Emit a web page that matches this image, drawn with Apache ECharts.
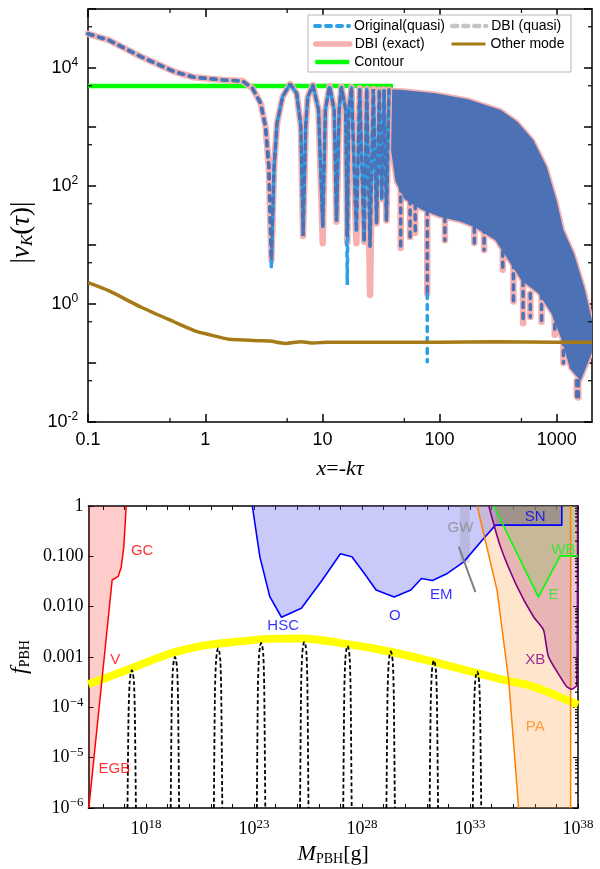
<!DOCTYPE html>
<html><head><meta charset="utf-8">
<script src="https://cdn.jsdelivr.net/npm/echarts@6/dist/echarts.min.js"></script>
<style>html,body{margin:0;padding:0;background:#fff}#c{width:600px;height:869px}</style>
</head><body><div id="c"></div>
<script>
// ================= TOP PANEL DATA (x = -k tau, |v_k|) =================
const curveX = [0.1,0.15,0.284,0.54,0.8,1.42,2.09,2.53,2.97,3.27,3.49,3.67,3.87,4.1,4.57,5.3,6.03,6.55,6.84,7.2,7.5,8.3,9.26,10.07,10.6,11.5,12.6,13.2,13.9,14.5,15.8,16.3,16.8,17.7,19.5,20.8,22.7,23.9,25.5,27.2,29,30.6,32.1,33.6,35.2,37];
const curveY = [38000,29600,15500,8700,6970,6270,6000,4530,2530,1010,213,5.6,213,1150,3250,5370,3710,1010,14.2,1010,3250,5150,1950,20.4,1950,4950,1950,24.8,1950,4800,1950,13.8,1950,4700,16.8,4530,11.4,4400,9.4,4400,23.3,4300,60,4300,26,4300];
const lightDipX = [3.67, 16.3];
const lightDipY = [4.0, 2.1];
const pinkDipX = [10.07, 16.3, 19.5, 25.5];
const pinkDipY = [10.7, 11, 10.7, 1.42];
// dense oscillation band
const bandTopX = [36, 48.5, 92, 175, 333, 460, 630, 820, 994, 1140, 1400, 1710, 2000];
const bandTopY = [4350, 4240, 3730, 2950, 1950, 1230, 600, 212, 58, 18, 7.2, 1.96, 0.54];
const bandBotX = [36, 38, 42, 50, 70, 100, 150, 200, 300, 400, 500, 700, 900, 1100, 1300, 1600, 2000];
const bandBotY = [3000, 500, 120, 60, 40, 30, 25, 20, 12, 5, 2.5, 1.5, 0.7, 0.25, 0.08, 0.05, 0.15];
const spikeX   = [46.6, 56, 62, 78.5, 111, 198, 240, 346, 427, 516, 595, 742, 962, 1140, 1480, 1530];
const spikeTop = [100, 60, 50, 40, 30, 20, 20, 12, 5, 2.5, 1.5, 1.5, 0.7, 0.25, 0.05, 0.05];
const spikeBot = [8.9, 13.6, 16, 1.5, 12, 10.8, 8.2, 3.8, 1.1, 0.47, 0.6, 0.5, 0.3, 0.1, 0.027, 0.026];
const lightSpikeX = [78.5];
const lightSpikeTop = [1.5];
const lightSpikeBot = [0.105];
const otherX = [0.1, 0.15, 0.284, 0.54, 0.85, 1.03, 1.6, 3.07, 3.6, 4.8, 6.6, 8, 11, 30, 100, 300, 1000, 2000];
const otherY = [2.3, 1.68, 0.88, 0.5, 0.34, 0.31, 0.252, 0.239, 0.235, 0.215, 0.23, 0.218, 0.225, 0.225, 0.225, 0.23, 0.225, 0.225];
const contourX = [0.1, 40];
const contourY = [4950, 4950];
const topXMajor = [0.1, 1, 10, 100, 1000];
const topXLabels = ['0.1', '1', '10', '100', '1000'];
const topXMinor = [0.5, 5, 50, 500];
const topYMajor = [1e-2, 1e-1, 1, 10, 100, 1e3, 1e4, 1e5];
const topYLabelExp = [-2, 0, 2, 4];
const topYMinor = [0.05, 0.5, 5, 50, 500, 5000, 50000];

// ================= BOTTOM PANEL DATA (log10 M [g], log10 f) =================
const redLogM = [15.35, 16.43, 16.71, 16.85, 16.97, 17.08];
const redLogF = [-6, -1.47, -1.40, -1.21, -0.81, 0];
const blueLogM = [22.92,23.27,23.73,24.27,25.19,26.11,27.0,27.53,28.11,28.65,29.49,30.26,30.75,31.26,31.95,32.71,33.56,34.18,37.25,37.25];
const blueLogF = [0,-1.01,-1.80,-2.21,-2.03,-1.50,-0.95,-1.01,-1.34,-1.67,-1.81,-1.67,-1.44,-1.48,-1.34,-1.11,-0.68,-0.38,-0.38,0];
const paLogM = [33.33, 34.25, 34.79, 35.25];
const paLogF = [0, -1.67, -3.46, -6];
const paRightLogM = [37.66, 37.66];
const paRightLogF = [-6, 0];
const xbLogM = [33.87,34.41,35.18,35.94,36.4,36.63,37.17,37.48,37.71,37.94,37.98];
const xbLogF = [0,-0.81,-1.60,-2.20,-2.46,-2.99,-3.39,-3.59,-3.64,-3.56,0];
const eLogM = [34.1, 36.17, 37.17, 38];
const eLogF = [0, -1.81, -0.99, -0.99];
const snLogM = [34.18, 37.25];
const snLogF = [-0.38, 0];
const gwBandLogM = [32.53, 32.99];
const gwBandLogF = [-1.13, 0];
const gwLineLogM = [32.48, 33.25];
const gwLineLogF = [-0.81, -1.71];
const yelLogM = [15.33,15.97,17.35,19.05,20.58,22.12,23.65,25.19,27.26,29.26,31.26,33.25,34.41,35.94,38];
const yelLogF = [-3.54,-3.44,-3.22,-2.94,-2.78,-2.70,-2.64,-2.63,-2.74,-2.89,-3.09,-3.31,-3.44,-3.59,-3.95];
const peakLogM = [17.34,19.34,21.34,23.33,25.33,27.33,29.33,31.33,33.33];
const peakLogF = [-3.26,-3.0,-2.83,-2.72,-2.70,-2.78,-2.89,-3.07,-3.29];
const peakShapeDM = [-0.15,-0.1,-0.05,0,0.05,0.1,0.14];
const peakShapeDF = [-0.85,-0.25,-0.06,0,-0.06,-0.25,-0.85];
const peakBaseDM = [-0.2, 0.19];
const labelText = ['GC','V','EGB','HSC','O','EM','GW','SN','WB','E','XB','PA'];
const labelLogM = [17.82,16.57,16.53,24.35,29.52,31.67,32.56,36.02,37.32,36.86,36.02,36.02];
const labelLogF = [-0.89,-3.06,-5.23,-2.38,-2.19,-1.77,-0.44,-0.22,-0.87,-1.77,-3.06,-4.39];
const labelColor = ['#ff0000','#ff0000','#ff0000','#0000ff','#0000ff','#0000ff','#8a8a8a','#0000ff','#22ee22','#22ee22','#800080','#ff8a1a'];
const botXMin = 15.33, botXMax = 38, botYMin = -6, botYMax = 0;
const botXTicks = [16,17,18,19,20,21,22,23,24,25,26,27,28,29,30,31,32,33,34,35,36,37,38];
const botXLabels = [18, 23, 28, 33, 38];
const botYTicks = [-6,-5,-4,-3,-2,-1,0];
const botYLabels = {'0':'1','-1':'0.100','-2':'0.010','-3':'0.001','-4':'{b|10}{s|\u22124}','-5':'{b|10}{s|\u22125}','-6':'{b|10}{s|\u22126}'};
const botYMinorFactors = [2,3,4,5,6,7,8,9];

// ================= BUILD =================
const L = Math.log10;
const SANS = "'Liberation Sans', Arial, sans-serif";
const SERIF = "'Liberation Serif', 'Times New Roman', serif";
const topXMin = L(0.1), topXMax = L(2000), topYMin = -2, topYMax = 5;

const zip = (xs, ys, fx, fy) => xs.map((x, i) => [fx(x), fy(ys[i])]);
const id = v => v;
const darkPts = zip(curveX, curveY, L, L);
const replaceDips = (dx, dy) => curveX.map((x, i) => {
  const j = dx.indexOf(x);
  return [L(x), L(j >= 0 ? dy[j] : curveY[i])];
});
const lightPts = replaceDips(lightDipX, lightDipY);
const pinkPts = replaceDips(pinkDipX, pinkDipY);
const bandPoly = zip(bandTopX, bandTopY, L, L).concat(zip(bandBotX, bandBotY, L, L).reverse());
const spikes = spikeX.map((x, i) => [L(x), L(spikeTop[i]), L(spikeBot[i])]);
const lightSpikes = lightSpikeX.map((x, i) => [L(x), L(lightSpikeTop[i]), L(lightSpikeBot[i])]);

function rectOf(cs){ return {x: cs.x, y: cs.y, width: cs.width, height: cs.height}; }
function polySeries(xi, yi, pts, style) {
  return {type:'custom', xAxisIndex:xi, yAxisIndex:yi, silent:true, clip:true, data:[pts[0]],
    renderItem:(params, api) => ({type:'polygon', shape:{points: pts.map(p => api.coord(p))},
      style: Object.assign({}, style), clipPath:{type:'rect', shape: rectOf(params.coordSys)}})};
}
function segSeries(xi, yi, segs, style) {
  return {type:'custom', xAxisIndex:xi, yAxisIndex:yi, silent:true, clip:true, data: segs,
    renderItem:(params, api) => {
      const a = api.coord([api.value(0), api.value(1)]), b = api.coord([api.value(0), api.value(2)]);
      return {type:'line', shape:{x1:a[0], y1:a[1], x2:b[0], y2:b[1]}, style: Object.assign({}, style),
        clipPath:{type:'rect', shape: rectOf(params.coordSys)}};
    }};
}
function minorTickSeries(xi, yi, xs, ys, len, anchor, sidesY) {
  return {type:'custom', xAxisIndex:xi, yAxisIndex:yi, silent:true, data:[anchor], z:5,
    renderItem:(params, api) => {
      const cs = params.coordSys, ch = [];
      const st = {stroke:'#000', lineWidth:1.2};
      xs.forEach(v => { const px = api.coord([v, anchor[1]])[0];
        ch.push({type:'line', shape:{x1:px, y1:cs.y+cs.height, x2:px, y2:cs.y+cs.height-len}, style:st});
        ch.push({type:'line', shape:{x1:px, y1:cs.y, x2:px, y2:cs.y+len}, style:st}); });
      ys.forEach(v => { const py = api.coord([anchor[0], v])[1];
        if (sidesY.indexOf('left') >= 0) ch.push({type:'line', shape:{x1:cs.x, y1:py, x2:cs.x+len, y2:py}, style:st});
        if (sidesY.indexOf('right') >= 0) ch.push({type:'line', shape:{x1:cs.x+cs.width, y1:py, x2:cs.x+cs.width-len, y2:py}, style:st}); });
      return {type:'group', children: ch};
    }};
}
function lineSeries(name, xi, yi, data, color, width, extra) {
  return Object.assign({type:'line', name, xAxisIndex:xi, yAxisIndex:yi, data, symbol:'none', silent:true,
    animation:false, lineStyle:{color, width}, itemStyle:{color}}, extra || {});
}

const axLine = {show:true, onZero:false, lineStyle:{color:'#000', width:1.5}};
const supRich = (big, small, pad, fam) => ({b:{fontSize:big, fontFamily:fam, color:'#000'}, s:{fontSize:small, fontFamily:fam, color:'#000', padding:[0,0,pad,0]}});

const xAxes = [
  {gridIndex:0, type:'value', min:topXMin, max:topXMax, position:'bottom', axisLine:axLine, splitLine:{show:false},
   axisTick:{inside:true, length:8, lineStyle:{color:'#000', width:1.5}, customValues: topXMajor.map(L)},
   axisLabel:{customValues: topXMajor.map(L), margin:9, fontSize:18, fontFamily:SANS, color:'#000',
     formatter: v => { const i = topXMajor.findIndex(t => Math.abs(L(t) - v) < 1e-6); return i >= 0 ? topXLabels[i] : ''; }},
   name:'{i|x}{r|=-}{i|k\u03c4}', nameLocation:'middle', nameGap:36,
   nameTextStyle:{fontSize:22, fontFamily:SERIF, color:'#000', rich:{i:{fontSize:22, fontFamily:SERIF, fontStyle:'italic', color:'#000'}, r:{fontSize:22, fontFamily:SERIF, color:'#000'}}}},
  {gridIndex:0, type:'value', min:topXMin, max:topXMax, position:'top', axisLine:axLine, splitLine:{show:false},
   axisTick:{inside:true, length:8, lineStyle:{color:'#000', width:1.5}, customValues: topXMajor.map(L)}, axisLabel:{show:false}},
  {gridIndex:1, type:'value', min:botXMin, max:botXMax, position:'bottom', axisLine:axLine, splitLine:{show:false},
   axisTick:{inside:true, length:4, lineStyle:{color:'#000', width:1}, customValues: botXTicks},
   axisLabel:{customValues: botXLabels, margin:10, fontSize:18, fontFamily:SERIF, color:'#000',
     formatter: v => '{b|10}{s|' + Math.round(v) + '}', rich: supRich(18, 13, 10, SERIF)},
   name:'{i|M}{s|PBH}{r|[g]}', nameLocation:'middle', nameGap:34,
   nameTextStyle:{fontSize:22, fontFamily:SERIF, color:'#000', rich:{i:{fontSize:22, fontFamily:SERIF, fontStyle:'italic', color:'#000'}, s:{fontSize:14, fontFamily:SERIF, color:'#000', padding:[10,0,0,0]}, r:{fontSize:22, fontFamily:SERIF, color:'#000'}}}},
  {gridIndex:1, type:'value', min:botXMin, max:botXMax, position:'top', axisLine:axLine, splitLine:{show:false},
   axisTick:{inside:true, length:4, lineStyle:{color:'#000', width:1}, customValues: botXTicks}, axisLabel:{show:false}}
];
const yAxes = [
  {gridIndex:0, type:'value', min:topYMin, max:topYMax, position:'left', axisLine:axLine, splitLine:{show:false},
   axisTick:{inside:true, length:8, lineStyle:{color:'#000', width:1.5}, customValues: topYMajor.map(L)},
   axisLabel:{customValues: topYLabelExp, margin:10, fontSize:18, fontFamily:SANS, color:'#000',
     formatter: v => '{b|10}{s|' + Math.round(v) + '}', rich: supRich(18, 12, 10, SANS)},
   name:'|{i|v}{k|K}({i|\u03c4})|', nameLocation:'middle', nameGap:36, nameRotate:90,
   nameTextStyle:{fontSize:27, fontFamily:SERIF, color:'#000', padding:[0,34,0,0], rich:{i:{fontSize:27, fontFamily:SERIF, fontStyle:'italic', color:'#000'}, k:{fontSize:17, fontFamily:SERIF, fontStyle:'italic', color:'#000', padding:[13,0,0,0]}}}},
  {gridIndex:0, type:'value', min:topYMin, max:topYMax, position:'right', axisLine:axLine, splitLine:{show:false},
   axisTick:{inside:true, length:8, lineStyle:{color:'#000', width:1.5}, customValues: topYMajor.map(L)}, axisLabel:{show:false}},
  {gridIndex:1, type:'value', min:botYMin, max:botYMax, position:'left', axisLine:axLine, splitLine:{show:false},
   axisTick:{inside:true, length:5, lineStyle:{color:'#000', width:1}, customValues: botYTicks},
   axisLabel:{customValues: botYTicks, margin:5, fontSize:18, fontFamily:SERIF, color:'#000',
     formatter: v => botYLabels[String(Math.round(v))], rich: supRich(18, 13, 10, SERIF)},
   name:'{i|f}{s|PBH}', nameLocation:'middle', nameGap:54, nameRotate:90,
   nameTextStyle:{fontSize:22, fontFamily:SERIF, color:'#000', rich:{i:{fontSize:24, fontFamily:SERIF, fontStyle:'italic', color:'#000'}, s:{fontSize:14, fontFamily:SERIF, color:'#000', padding:[10,0,0,0]}}}},
  {gridIndex:1, type:'value', min:botYMin, max:botYMax, position:'right', axisLine:axLine, splitLine:{show:false},
   axisTick:{inside:true, length:5, lineStyle:{color:'#000', width:1}, customValues: botYTicks}, axisLabel:{show:false}}
];

const botYMinor = [];
botYTicks.slice(0, -1).forEach(d => botYMinorFactors.forEach(f => botYMinor.push(d + L(f))));

const dash = {type:[5,6], cap:'round'};
const series = [
  // ---- top panel ----
  lineSeries('Contour', 0, 0, zip(contourX, contourY, L, L), '#00ff00', 4.5),
  lineSeries('Other mode', 0, 0, zip(otherX, otherY, L, L), '#a67b17', 3.5, {smooth:0.2}),
  segSeries(0, 0, spikes, {stroke:'#f7b0b0', lineWidth:6.5, lineCap:'round'}),
  lineSeries('DBI (exact)', 0, 0, pinkPts, '#f7b0b0', 6.5, {lineStyle:{color:'#f7b0b0', width:6.5, cap:'round', join:'round'}}),
  polySeries(0, 0, bandPoly, {fill:'#f7b0b0', stroke:'#f7b0b0', lineWidth:3.5, lineJoin:'round'}),
  polySeries(0, 0, bandPoly, {fill:'#4c71b4'}),
  segSeries(0, 0, lightSpikes, {stroke:'#2ba0e8', lineWidth:3.5, lineCap:'round', lineDash:[5,6]}),
  lineSeries('Original(quasi)', 0, 0, lightPts, '#2ba0e8', 3.5, {lineStyle:Object.assign({color:'#2ba0e8', width:3.5}, dash)}),
  lineSeries('_dbiq', 0, 0, darkPts, '#4c71b4', 3.5, {lineStyle:Object.assign({color:'#4c71b4', width:3.5}, dash)}),
  segSeries(0, 0, spikes, {stroke:'#4c71b4', lineWidth:3.5, lineCap:'round', lineDash:[5,6]}),
  lineSeries('DBI (quasi)', 0, 0, [], '#c4c4c4', 4, {lineStyle:Object.assign({color:'#c4c4c4', width:4}, dash)}),
  minorTickSeries(0, 0, topXMinor.map(L), topYMinor.map(L), 4, [topXMin, topYMin], ['left','right']),
  // ---- bottom panel ----
  lineSeries('_yellow', 2, 2, zip(yelLogM, yelLogF, id, id), '#ffff00', 8, {smooth:0.3}),
  polySeries(2, 2, [[botXMin, botYMin]].concat(zip(redLogM, redLogF, id, id)).concat([[botXMin, botYMax]]), {fill:'rgba(255,0,0,0.2)'}),
  polySeries(2, 2, zip(paLogM, paLogF, id, id).concat(zip(paRightLogM, paRightLogF, id, id)), {fill:'rgba(252,160,70,0.28)'}),
  polySeries(2, 2, zip(xbLogM, xbLogF, id, id), {fill:'rgba(161,39,111,0.25)'}),
  polySeries(2, 2, zip(eLogM, eLogF, id, id).concat([[botXMax, botYMax]]), {fill:'rgba(152,192,107,0.4)'}),
  polySeries(2, 2, zip(blueLogM.slice(0, 18), blueLogF.slice(0, 18), id, id).concat([[blueLogM[17], botYMax]]), {fill:'rgba(100,100,240,0.34)'}),
  polySeries(2, 2, [[snLogM[0], snLogF[0]], [snLogM[1], snLogF[0]], [snLogM[1], snLogF[1]], [snLogM[0], snLogF[1]]], {fill:'rgba(105,95,125,0.42)'}),
  polySeries(2, 2, [[gwBandLogM[0], gwBandLogF[0]], [gwBandLogM[1], gwBandLogF[0]], [gwBandLogM[1], gwBandLogF[1]], [gwBandLogM[0], gwBandLogF[1]]], {fill:'rgba(128,128,128,0.22)'}),
  lineSeries('_red', 2, 2, zip(redLogM, redLogF, id, id), '#ff0000', 1.5),
  lineSeries('_blue', 2, 2, zip(blueLogM, blueLogF, id, id), '#0000ff', 1.6),
  lineSeries('_pa', 2, 2, zip(paLogM, paLogF, id, id), '#ff8000', 1.5),
  lineSeries('_paR', 2, 2, zip(paRightLogM, paRightLogF, id, id), '#ff8000', 1.5),
  lineSeries('_xb', 2, 2, zip(xbLogM, xbLogF, id, id), '#800080', 1.6, {smooth:0.2}),
  lineSeries('_e', 2, 2, zip(eLogM, eLogF, id, id), '#00ff00', 1.6),
  lineSeries('_gw', 2, 2, zip(gwLineLogM, gwLineLogF, id, id), '#808080', 2),
  minorTickSeries(2, 2, [], botYMinor, 3, [botXMin, botYMin], ['right'])
];
peakLogM.forEach((c, k) => {
  const pts = [[c + peakBaseDM[0], botYMin]]
    .concat(peakShapeDM.map((d, i) => [c + d, peakLogF[k] + peakShapeDF[i]]))
    .concat([[c + peakBaseDM[1], botYMin]]);
  series.push(lineSeries('_peak' + k, 2, 2, pts, '#000', 1.8, {smooth:0.25, lineStyle:{color:'#000', width:1.8, type:[4,2.5]}}));
});
series.push({type:'scatter', xAxisIndex:2, yAxisIndex:2, silent:true, symbolSize:1, itemStyle:{color:'rgba(0,0,0,0)'},
  data: labelText.map((t, i) => ({value:[labelLogM[i], labelLogF[i]], name:t, label:{color:labelColor[i]}})),
  label:{show:true, position:'inside', formatter: p => p.name, fontSize:15, fontFamily:SANS}, z:10});

const legCommon = {orient:'horizontal', itemWidth:34, itemHeight:12, padding:0, selectedMode:false, z:120,
  itemStyle:{opacity:0}, textStyle:{fontSize:14, fontFamily:SANS, color:'#000'}};
const legends = [
  {name:'Original(quasi)', left:313, top:19, w:4},
  {name:'DBI (quasi)', left:450, top:19, w:4.5},
  {name:'DBI (exact)', left:313, top:37, w:5.5},
  {name:'Other mode', left:450, top:37, w:3},
  {name:'Contour', left:313, top:55, w:4.5}
].map(o => Object.assign({}, legCommon, {data:[o.name], left:o.left, top:o.top, lineStyle:{width:o.w}}));

const chart = echarts.init(document.getElementById('c'), null, {renderer:'canvas', width:600, height:869});
chart.setOption({
  animation:false,
  backgroundColor:'#fff',
  grid:[{left:79, top:9, width:513, height:413}, {left:86, top:506, width:492, height:302}],
  xAxis:xAxes, yAxis:yAxes, series, legend:legends,
  graphic:[{type:'rect', z:100, silent:true, shape:{x:308, y:15, width:263, height:57}, style:{fill:'#fff', stroke:'#b8b8b8', lineWidth:1}}]
});
</script></body></html>
